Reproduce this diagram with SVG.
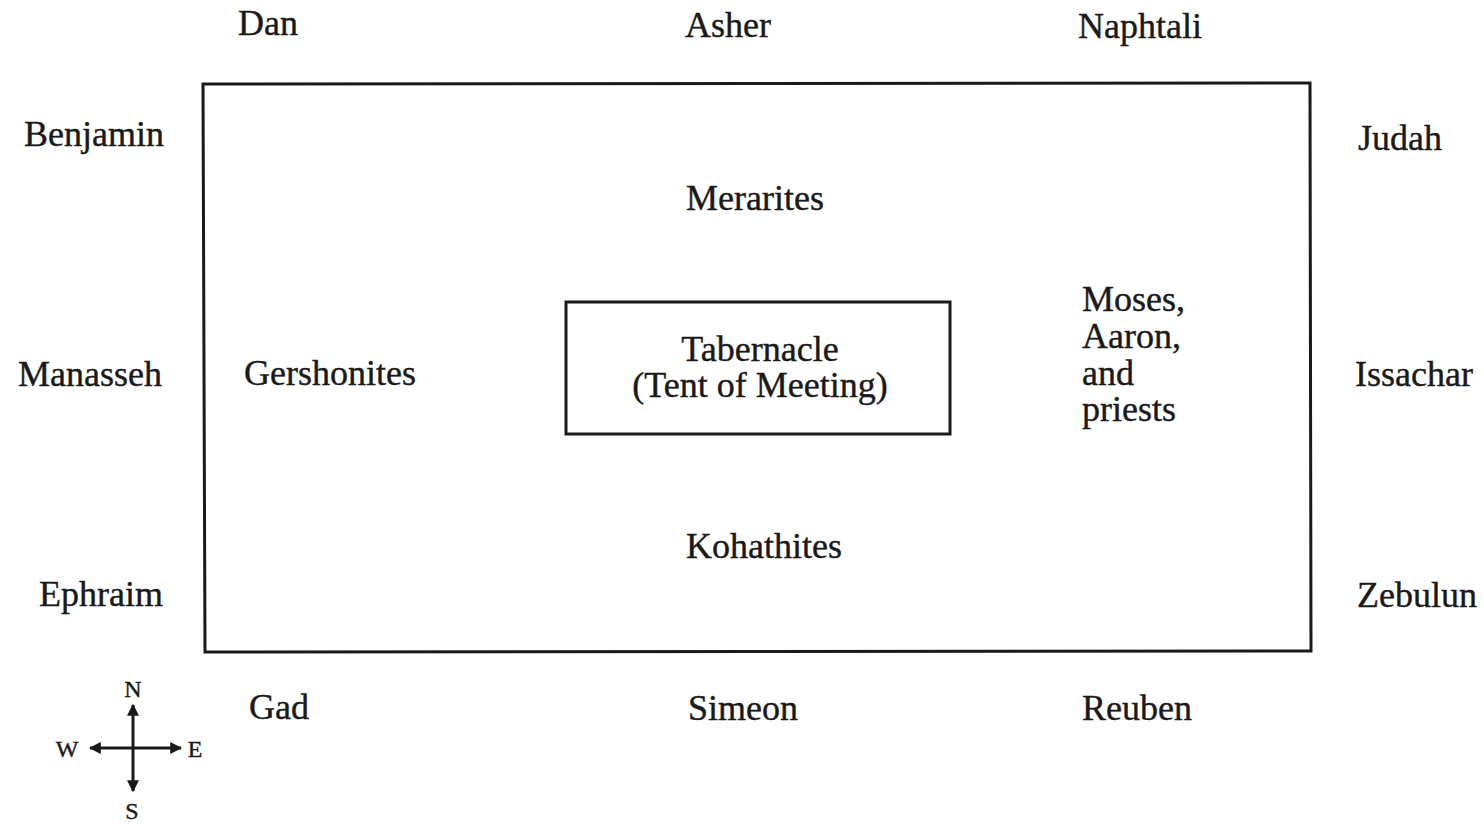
<svg xmlns="http://www.w3.org/2000/svg" width="1484" height="824" viewBox="0 0 1484 824">
<style>
text{font-family:"Liberation Serif","DejaVu Serif",serif;font-size:36px;fill:#1a1a1a;stroke:#1a1a1a;stroke-width:0.4}
.c{font-size:24px}
.box{fill:none;stroke:#1a1a1a;stroke-width:3}
.ax{stroke:#1a1a1a;stroke-width:3;fill:none}
</style>
<defs>
<marker id="ah" viewBox="0 0 10 10" refX="9" refY="5" markerWidth="4" markerHeight="4" orient="auto"><path d="M0,0 L10,5 L0,10 z" fill="#1a1a1a"/></marker>
</defs>
<rect width="1484" height="824" fill="#fff"/>
<g id="camp"><polygon class="box" points="203,84 1310,83 1311,651 205,652"/></g>
<g id="tabernacle"><rect class="box" x="566" y="302" width="384" height="132"/>
<text x="760" y="361" text-anchor="middle">Tabernacle</text>
<text x="760" y="397" text-anchor="middle">(Tent of Meeting)</text></g>
<g id="dan"><text x="238" y="35">Dan</text></g>
<g id="asher"><text x="685" y="37">Asher</text></g>
<g id="naphtali"><text x="1078" y="38">Naphtali</text></g>
<g id="benjamin"><text x="24" y="146">Benjamin</text></g>
<g id="judah"><text x="1358" y="150">Judah</text></g>
<g id="merarites"><text x="686" y="210">Merarites</text></g>
<g id="moses"><text x="1082" y="311">Moses,</text><text x="1082" y="348">Aaron,</text><text x="1082" y="385">and</text><text x="1082" y="421">priests</text></g>
<g id="manasseh"><text x="18" y="386">Manasseh</text></g>
<g id="gershonites"><text x="244" y="385">Gershonites</text></g>
<g id="issachar"><text x="1355" y="386">Issachar</text></g>
<g id="kohathites"><text x="686" y="558">Kohathites</text></g>
<g id="ephraim"><text x="39" y="606">Ephraim</text></g>
<g id="zebulun"><text x="1357" y="607">Zebulun</text></g>
<g id="gad"><text x="249" y="719">Gad</text></g>
<g id="simeon"><text x="688" y="720">Simeon</text></g>
<g id="reuben"><text x="1082" y="720">Reuben</text></g>
<g id="compass">
<line class="ax" x1="133" y1="748" x2="133" y2="705" marker-end="url(#ah)"/>
<line class="ax" x1="133" y1="748" x2="133" y2="791" marker-end="url(#ah)"/>
<line class="ax" x1="133" y1="748" x2="90" y2="748" marker-end="url(#ah)"/>
<line class="ax" x1="133" y1="748" x2="181" y2="748" marker-end="url(#ah)"/>
<text class="c" x="133" y="697" text-anchor="middle">N</text>
<text class="c" x="67" y="757" text-anchor="middle">W</text>
<text class="c" x="195" y="757" text-anchor="middle">E</text>
<text class="c" x="132" y="819" text-anchor="middle">S</text>
</g>
</svg>
